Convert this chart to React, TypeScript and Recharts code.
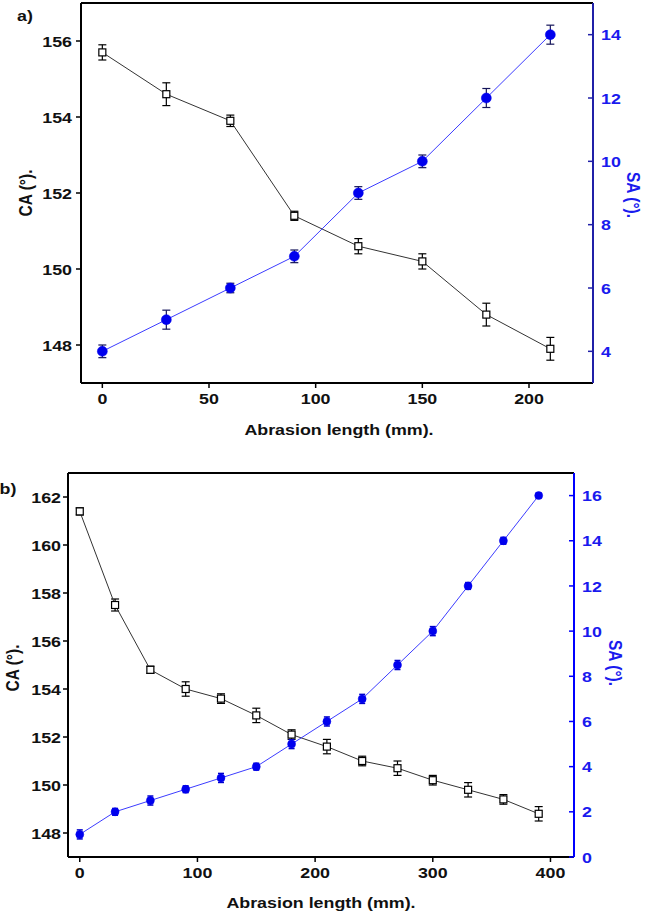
import { LineChart, Line, XAxis, YAxis, ErrorBar, ReferenceLine } from 'recharts'

const FONT = '"Liberation Sans", Arial, sans-serif'
// the source image is stretched sideways a little, so text gets a small horizontal scale
const STRETCH = 1.15

// panel a) data
const lengthA = [0, 30, 60, 90, 120, 150, 180, 210]
const caA = [155.7, 154.6, 153.9, 151.4, 150.6, 150.2, 148.8, 147.9]
const caErrA = [0.2, 0.3, 0.15, 0.12, 0.2, 0.2, 0.3, 0.3]
const saA = [4, 5, 6, 7, 9, 10, 12, 14]
const saErrA = [0.2, 0.3, 0.15, 0.2, 0.2, 0.2, 0.3, 0.3]
const xTicksA = [0, 50, 100, 150, 200]
const caTicksA = [148, 150, 152, 154, 156]
const saTicksA = [4, 6, 8, 10, 12, 14]

// panel b) data
const lengthB = [0, 30, 60, 90, 120, 150, 180, 210, 240, 270, 300, 330, 360, 390]
const caB = [161.4, 157.5, 154.8, 154.0, 153.6, 152.9, 152.1, 151.6, 151.0, 150.7, 150.2, 149.8, 149.4, 148.8]
const caErrB = [0.15, 0.25, 0.15, 0.3, 0.2, 0.3, 0.2, 0.3, 0.2, 0.3, 0.2, 0.3, 0.2, 0.3]
const saB = [1, 2, 2.5, 3, 3.5, 4, 5, 6, 7, 8.5, 10, 12, 14, 16]
const saErrB = [0.2, 0.15, 0.2, 0.15, 0.2, 0.15, 0.2, 0.2, 0.2, 0.2, 0.2, 0.15, 0.15, 0.1]
const xTicksB = [0, 100, 200, 300, 400]
const caTicksB = [148, 150, 152, 154, 156, 158, 160, 162]
const saTicksB = [0, 2, 4, 6, 8, 10, 12, 14, 16]

function rows(x: number[], ca: number[], caErr: number[], sa: number[], saErr: number[]) {
  return x.map((v, i) => ({ length: v, ca: ca[i], caErr: caErr[i], sa: sa[i], saErr: saErr[i] }))
}

const dataA = rows(lengthA, caA, caErrA, saA, saErrA)
const dataB = rows(lengthB, caB, caErrB, saB, saErrB)

function TickText({ x, y, anchor, dy, color, value }: any) {
  return (
    <text
      transform={`translate(${x},${y}) scale(${STRETCH},1)`}
      x={0}
      y={0}
      dy={dy}
      textAnchor={anchor}
      fill={color}
      fontSize={15.5}
      fontWeight={700}
      fontFamily={FONT}
    >
      {value}
    </text>
  )
}

const bottomTick = (props: any) => (
  <TickText x={props.x} y={props.y} anchor="middle" dy="0.71em" color="#111" value={props.payload.value} />
)

const leftTick = (props: any) => (
  <TickText x={props.x} y={props.y} anchor="end" dy="0.36em" color="#111" value={props.payload.value} />
)

// right axis ticks point inward in the original, so draw them by hand
function rightTick(color: string, axisColor: string, offset: number) {
  return (props: any) => {
    const { x, y, payload } = props
    return (
      <g>
        <line x1={x - offset - 5} x2={x - offset} y1={y} y2={y} stroke={axisColor} strokeWidth={1.5} />
        <TickText x={x} y={y} anchor="start" dy="0.36em" color={color} value={payload.value} />
      </g>
    )
  }
}

function SquareDot(props: any) {
  const { cx, cy, index } = props
  if (cx == null || cy == null) return <g key={`sq-${index}`} />
  return (
    <rect key={`sq-${index}`} x={cx - 3.5} y={cy - 3.5} width={7} height={7} fill="#fff" stroke="#000" strokeWidth={1.2} />
  )
}

function Title({ text, x, y, rotate, color }: { text: string; x: number; y: number; rotate?: number; color?: string }) {
  const r = rotate ?? 0
  const stretch = r === 0 ? `scale(${STRETCH},1)` : `scale(1,${STRETCH})`
  return (
    <div
      style={{
        position: 'absolute',
        left: x,
        top: y,
        transform: `translate(-50%, -50%) rotate(${r}deg) ${stretch}`,
        whiteSpace: 'nowrap',
        fontFamily: FONT,
        fontWeight: 700,
        fontSize: 15.5,
        lineHeight: 1,
        color: color ?? '#111',
      }}
    >
      {text}
    </div>
  )
}

export default function App() {
  return (
    <div style={{ position: 'absolute', left: 0, top: 0, width: 645, height: 914, background: '#fff', overflow: 'hidden' }}>
      <div style={{ position: 'absolute', left: 0, top: 0 }}>
        <LineChart width={645} height={440} data={dataA} margin={{ top: 3, right: 0, left: 0, bottom: 0 }}>
          <XAxis
            dataKey="length"
            type="number"
            domain={[-10, 230]}
            ticks={xTicksA}
            allowDataOverflow
            height={57}
            stroke="#000"
            axisLine={{ stroke: '#000', strokeWidth: 2 }}
            tickLine={{ stroke: '#000', strokeWidth: 1.5 }}
            tickSize={5}
            tickMargin={5}
            tick={bottomTick}
          />
          <YAxis
            yAxisId="ca"
            orientation="left"
            type="number"
            domain={[147, 157]}
            ticks={caTicksA}
            allowDataOverflow
            width={81}
            stroke="#000"
            axisLine={{ stroke: '#000', strokeWidth: 2 }}
            tickLine={{ stroke: '#000', strokeWidth: 1.5 }}
            tickSize={5}
            tickMargin={4}
            tick={leftTick}
          />
          <YAxis
            yAxisId="sa"
            orientation="right"
            type="number"
            domain={[3, 15]}
            ticks={saTicksA}
            allowDataOverflow
            width={52}
            axisLine={{ stroke: '#2020a8', strokeWidth: 2 }}
            tickLine={false}
            tickSize={4}
            tickMargin={4}
            tick={rightTick('#1a1aee', '#2020a8', 8)}
          />
          <ReferenceLine yAxisId="ca" y={157} stroke="#000" strokeWidth={2} />
          <Line
            yAxisId="ca"
            dataKey="ca"
            stroke="#333"
            strokeWidth={1}
            dot={SquareDot}
            activeDot={false}
            isAnimationActive={false}
          >
            <ErrorBar dataKey="caErr" width={4} stroke="#000" strokeWidth={1.2} direction="y" />
          </Line>
          <Line
            yAxisId="sa"
            dataKey="sa"
            stroke="#3c3cff"
            strokeWidth={1}
            dot={{ r: 5, fill: '#0000ee', stroke: '#0000ee', strokeWidth: 0.5 }}
            activeDot={false}
            isAnimationActive={false}
          >
            <ErrorBar dataKey="saErr" width={4} stroke="#14145a" strokeWidth={1.2} direction="y" />
          </Line>
        </LineChart>
      </div>

      <div style={{ position: 'absolute', left: 0, top: 465 }}>
        <LineChart width={645} height={449} data={dataB} margin={{ top: 8, right: 0, left: 0, bottom: 0 }}>
          <XAxis
            dataKey="length"
            type="number"
            domain={[-10, 420]}
            ticks={xTicksB}
            allowDataOverflow
            height={57}
            stroke="#000"
            axisLine={{ stroke: '#000', strokeWidth: 2 }}
            tickLine={{ stroke: '#000', strokeWidth: 1.5 }}
            tickSize={5}
            tickMargin={5}
            tick={bottomTick}
          />
          <YAxis
            yAxisId="ca"
            orientation="left"
            type="number"
            domain={[147, 163]}
            ticks={caTicksB}
            allowDataOverflow
            width={68}
            stroke="#000"
            axisLine={{ stroke: '#000', strokeWidth: 2 }}
            tickLine={{ stroke: '#000', strokeWidth: 1.5 }}
            tickSize={5}
            tickMargin={2}
            tick={leftTick}
          />
          <YAxis
            yAxisId="sa"
            orientation="right"
            type="number"
            domain={[0, 17]}
            ticks={saTicksB}
            allowDataOverflow
            width={71}
            axisLine={{ stroke: '#0000ff', strokeWidth: 2 }}
            tickLine={false}
            tickSize={4}
            tickMargin={4}
            tick={rightTick('#1a1aee', '#0000ff', 8)}
          />
          <ReferenceLine yAxisId="ca" y={163} stroke="#000" strokeWidth={2} />
          <Line
            yAxisId="ca"
            dataKey="ca"
            stroke="#333"
            strokeWidth={1}
            dot={SquareDot}
            activeDot={false}
            isAnimationActive={false}
          >
            <ErrorBar dataKey="caErr" width={4} stroke="#000" strokeWidth={1.2} direction="y" />
          </Line>
          <Line
            yAxisId="sa"
            dataKey="sa"
            stroke="#3c3cff"
            strokeWidth={1}
            dot={{ r: 4, fill: '#0000ee', stroke: '#0000ee', strokeWidth: 0.5 }}
            activeDot={false}
            isAnimationActive={false}
          >
            <ErrorBar dataKey="saErr" width={3} stroke="#0000cc" strokeWidth={1.5} direction="y" />
          </Line>
        </LineChart>
      </div>

      <Title text="a)" x={25} y={16} />
      <Title text="CA (°)." x={26} y={193} rotate={-90} />
      <Title text="SA (°)." x={633} y={195} rotate={90} color="#1a1aee" />
      <Title text="Abrasion length (mm)." x={339} y={430} />

      <Title text="b)" x={8} y={489} />
      <Title text="CA (°)." x={13} y={668} rotate={-90} />
      <Title text="SA (°)." x={615} y={663} rotate={90} color="#1a1aee" />
      <Title text="Abrasion length (mm)." x={321} y={903} />
    </div>
  )
}
